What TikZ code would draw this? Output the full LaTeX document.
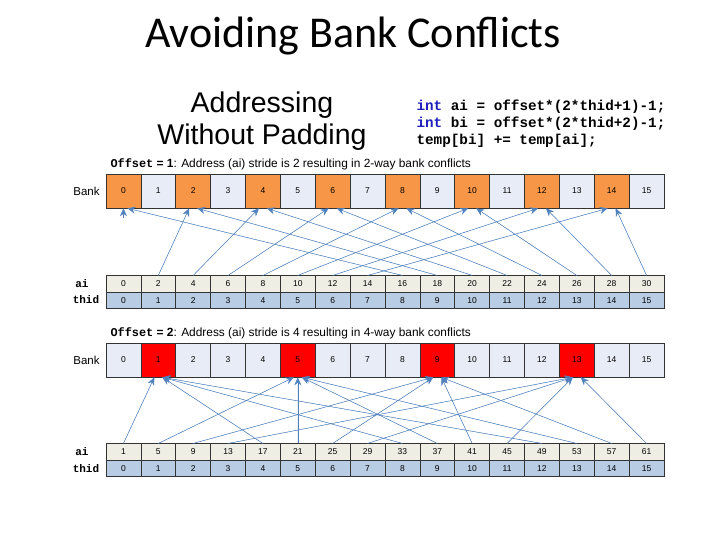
\documentclass[tikz,border=0pt]{standalone}
\usepackage{fontspec}
\setmainfont{Carlito}
\setmonofont{Liberation Mono}
\newfontfamily\arialfont{Liberation Sans}
\usepackage{tikz}
\usetikzlibrary{arrows,arrows.meta,positioning,calc}
\definecolor{bankorange}{RGB}{247,150,70}
\definecolor{banklight}{RGB}{231,236,246}
\definecolor{conflictred}{RGB}{255,0,0}
\definecolor{aifill}{RGB}{238,238,228}
\definecolor{thidfill}{RGB}{184,204,228}
\definecolor{linkblue}{RGB}{79,129,189}
\definecolor{codeblue}{RGB}{30,30,190}

\begin{document}
\begin{tikzpicture}[
    x=1pt, y=-1pt,
    bankcell/.style={rectangle, draw=black!80, line width=0.6pt, minimum width=34.875pt, minimum height=34pt, inner sep=0pt, font=\arialfont\fontsize{8.5}{10}\selectfont},
    idxcell/.style={rectangle, draw=black!80, line width=0.6pt, minimum width=34.875pt, minimum height=16.5pt, inner sep=0pt, font=\arialfont\fontsize{8.5}{10}\selectfont},
    rowlabel/.style={font=\ttfamily\bfseries\fontsize{11}{12}\selectfont},
    banklabel/.style={font=\arialfont\fontsize{11.5}{12}\selectfont},
    offsetlabel/.style={anchor=west, font=\arialfont\fontsize{11.9}{13}\selectfont},
    link/.style={-{Stealth[length=8pt,width=7pt]}, line width=0.5pt, draw=linkblue, fill=linkblue}
]
    \useasboundingbox (0,0) rectangle (720,540);

    % Titles
    \node (title) at (353,36) {\fontsize{44}{48}\selectfont Avoiding Bank Conflicts};
    \node[align=center, font=\arialfont\fontsize{28.5}{32}\selectfont] (heading) at (262,121) {Addressing\\Without Padding};
    \node[anchor=west, align=left, font=\ttfamily\bfseries\fontsize{14.3}{17}\selectfont] (code) at (413,124)
        {{\color{codeblue}int} ai = offset*(2*thid+1)-1;\\{\color{codeblue}int} bi = offset*(2*thid+2)-1;\\temp[bi] += temp[ai];};

    % Offset = 1
    \node[offsetlabel] (offset1) at (107,164) {{\ttfamily\bfseries Offset} \textbf{= 1}: Address (ai) stride is 2 resulting in 2-way bank conflicts};
    \node[banklabel] (bank1) at (86.5,191) {Bank};
    \node[rowlabel] (ai1) at (82,284) {ai};
    \node[rowlabel] (thid1) at (86,300) {thid};
    \foreach \i in {0,...,15} {
        \pgfmathsetmacro\cx{123.4375+34.875*\i}
        \pgfmathtruncatemacro\v{2*\i}
        \ifodd\i \def\bf{banklight}\else \def\bf{bankorange}\fi
        \node[bankcell, fill=\bf] (b1-\i) at (\cx,191) {\i};
        \node[idxcell, fill=aifill] (a1-\i) at (\cx,284) {\v};
        \node[idxcell, fill=thidfill] (t1-\i) at (\cx,300.25) {\i};
    }
    \coordinate (stub1) at ($(b1-0.south)+(0,10)$);
    \draw[link] (stub1) -- (b1-0.south);
    \foreach \i in {1,...,15} {
        \pgfmathtruncatemacro\j{mod(2*\i,16)}
        \ifnum\i<\j \def\ang{-103}\else \def\ang{-77}\fi
        \draw[link] (a1-\i.north) -- (b1-\j.\ang);
    }

    % Offset = 2
    \node[offsetlabel] (offset2) at (107,333) {{\ttfamily\bfseries Offset} \textbf{= 2}: Address (ai) stride is 4 resulting in 4-way bank conflicts};
    \node[banklabel] (bank2) at (86.5,360) {Bank};
    \node[rowlabel] (ai2) at (82,452) {ai};
    \node[rowlabel] (thid2) at (86,468.5) {thid};
    \foreach \i in {0,...,15} {
        \pgfmathsetmacro\cx{123.4375+34.875*\i}
        \pgfmathtruncatemacro\v{4*\i+1}
        \pgfmathtruncatemacro\r{mod(\i,4)}
        \ifnum\r=1 \def\bf{conflictred}\else \def\bf{banklight}\fi
        \node[bankcell, fill=\bf] (b2-\i) at (\cx,360) {\i};
        \node[idxcell, fill=aifill] (a2-\i) at (\cx,452) {\v};
        \node[idxcell, fill=thidfill] (t2-\i) at (\cx,468.5) {\i};
    }
    \foreach \i in {0,...,15} {
        \pgfmathtruncatemacro\j{mod(4*\i+1,16)}
        \ifnum\i<\j \def\ang{-103}\else \ifnum\i=\j \def\ang{-90}\else \def\ang{-77}\fi\fi
        \draw[link] (a2-\i.north) -- (b2-\j.\ang);
    }
\end{tikzpicture}
\end{document}
